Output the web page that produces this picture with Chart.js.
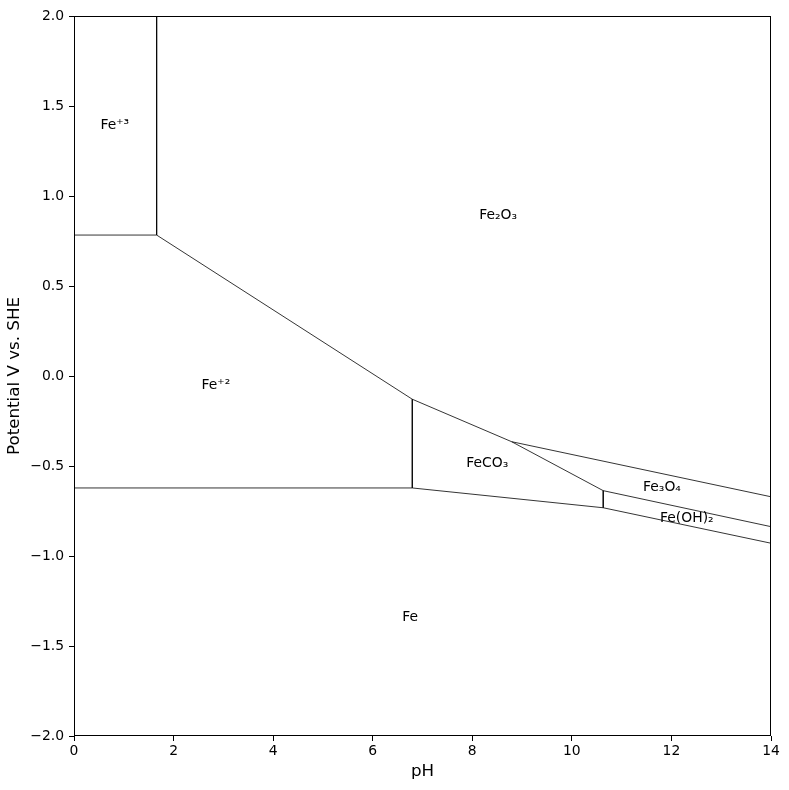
<!DOCTYPE html>
<html>
<head>
<meta charset="utf-8">
<script src="https://cdn.jsdelivr.net/npm/chart.js@4"></script>
<style>
  html, body { margin: 0; padding: 0; background: #ffffff; }
  #wrap { width: 789px; height: 790px; }
</style>
</head>
<body>
<div id="wrap"><canvas id="c" width="789" height="790"></canvas></div>
<script>
// ---- Data (pH, potential V vs. SHE) ----
const fe3Fe2PH   = [0, 1.66];          const fe3Fe2E   = [0.783, 0.783];
const fe3Fe2O3PH = [1.66, 1.66];       const fe3Fe2O3E = [2.0, 0.783];
const fe2Fe2O3PH = [1.66, 6.795];      const fe2Fe2O3E = [0.783, -0.129];
const fe2FeCO3PH = [6.795, 6.795];     const fe2FeCO3E = [-0.129, -0.622];
const fe2FePH    = [0, 6.795];         const fe2FeE    = [-0.622, -0.622];
const feco3Fe2O3PH = [6.795, 8.79];    const feco3Fe2O3E = [-0.129, -0.365];
const fe2o3Fe3o4PH = [8.79, 14];       const fe2o3Fe3o4E = [-0.365, -0.671];
const feco3Fe3o4PH = [8.79, 10.63];    const feco3Fe3o4E = [-0.365, -0.637];
const feco3FeOH2PH = [10.63, 10.63];   const feco3FeOH2E = [-0.637, -0.732];
const fe3o4FeOH2PH = [10.63, 14];      const fe3o4FeOH2E = [-0.637, -0.837];
const feco3FePH    = [6.795, 10.63];   const feco3FeE    = [-0.622, -0.732];
const feoh2FePH    = [10.63, 14];      const feoh2FeE    = [-0.732, -0.929];

const labelText = ['Fe\u207A\u00B3', 'Fe\u2082O\u2083', 'Fe\u207A\u00B2', 'FeCO\u2083', 'Fe\u2083O\u2084', 'Fe(OH)\u2082', 'Fe'];
const labelPH   = [0.82, 8.52, 2.85, 8.30, 11.81, 12.31, 6.75];
const labelE    = [1.394, 0.894, -0.05, -0.485, -0.618, -0.791, -1.339];

const xTicks = [0, 2, 4, 6, 8, 10, 12, 14];
const yTicks = [-2.0, -1.5, -1.0, -0.5, 0.0, 0.5, 1.0, 1.5, 2.0];

// ---- Build datasets ----
const boundaries = [
  [fe3Fe2PH, fe3Fe2E], [fe3Fe2O3PH, fe3Fe2O3E], [fe2Fe2O3PH, fe2Fe2O3E],
  [fe2FeCO3PH, fe2FeCO3E], [fe2FePH, fe2FeE], [feco3Fe2O3PH, feco3Fe2O3E],
  [fe2o3Fe3o4PH, fe2o3Fe3o4E], [feco3Fe3o4PH, feco3Fe3o4E], [feco3FeOH2PH, feco3FeOH2E],
  [fe3o4FeOH2PH, fe3o4FeOH2E], [feco3FePH, feco3FeE], [feoh2FePH, feoh2FeE]
];
const datasets = boundaries.map(([xs, ys]) => ({
  data: xs.map((x, i) => ({ x: x, y: ys[i] })),
  showLine: true,
  borderColor: '#000000',
  borderWidth: 0.8,
  pointRadius: 0,
  fill: false
}));

const FONT = 'DejaVu Sans';

const framePlugin = {
  id: 'frame',
  afterDatasetsDraw(chart) {
    const { ctx, chartArea: a, scales } = chart;
    ctx.save();
    ctx.fillStyle = '#000000';
    ctx.font = '13.9px "' + FONT + '"';
    ctx.textAlign = 'center';
    ctx.textBaseline = 'middle';
    labelText.forEach((t, i) => {
      ctx.fillText(t, scales.x.getPixelForValue(labelPH[i]), scales.y.getPixelForValue(labelE[i]));
    });
    ctx.strokeStyle = '#000000';
    ctx.lineWidth = 1;
    ctx.strokeRect(Math.round(a.left) + 0.5, Math.round(a.top) + 0.5,
                   Math.round(a.right - a.left) - 1, Math.round(a.bottom - a.top) - 1);
    ctx.restore();
  }
};

new Chart(document.getElementById('c'), {
  type: 'scatter',
  data: { datasets: datasets },
  options: {
    responsive: false,
    animation: false,
    devicePixelRatio: 1,
    layout: { padding: { left: 0, top: 16, right: 18, bottom: 0 } },
    plugins: { legend: { display: false }, tooltip: { enabled: false } },
    scales: {
      x: {
        type: 'linear', min: 0, max: 14,
        afterFit(s) { s.height = 54; },
        afterBuildTicks(s) { s.ticks = xTicks.map(v => ({ value: v })); },
        ticks: { color: '#000', font: { family: FONT, size: 13.9 }, padding: 2, maxRotation: 0,
                 callback: v => String(v) },
        grid: { display: true, drawOnChartArea: false, drawTicks: true, tickLength: 5, color: '#000' },
        border: { display: false },
        title: { display: true, text: 'pH', color: '#000', font: { family: FONT, size: 16.7 }, padding: { top: 0, bottom: 8 } }
      },
      y: {
        type: 'linear', min: -2, max: 2,
        afterFit(s) { s.width = 74; },
        afterBuildTicks(s) { s.ticks = yTicks.map(v => ({ value: v })); },
        ticks: { color: '#000', font: { family: FONT, size: 13.9 }, padding: 5,
                 callback: v => v.toFixed(1).replace('-', '\u2212') },
        grid: { display: true, drawOnChartArea: false, drawTicks: true, tickLength: 5, color: '#000' },
        border: { display: false },
        title: { display: true, text: 'Potential V vs. SHE', color: '#000', font: { family: FONT, size: 16.7 }, padding: { top: 5, bottom: 0 } }
      }
    }
  },
  plugins: [framePlugin]
});
</script>
</body>
</html>
